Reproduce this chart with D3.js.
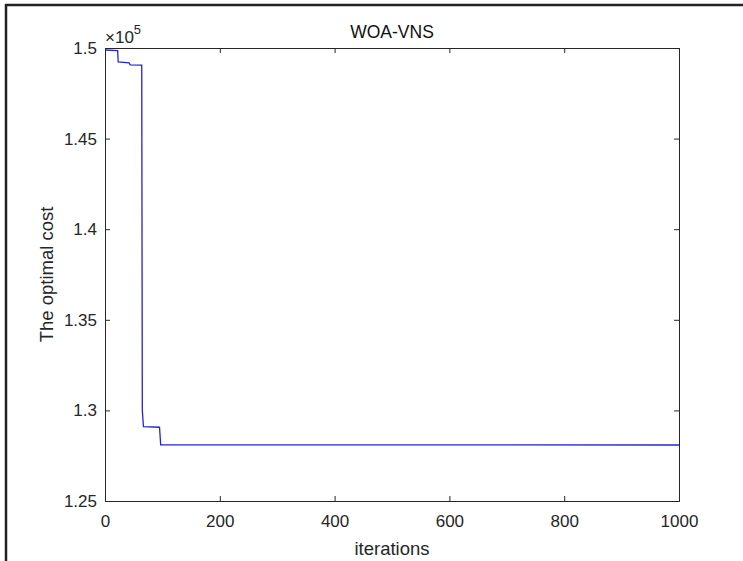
<!DOCTYPE html>
<html>
<head>
<meta charset="utf-8">
<script src="https://cdn.jsdelivr.net/npm/d3@7"></script>
<style>
  body { margin: 0; background: #fff; }
  svg { display: block; font-family: "Liberation Sans", Arial, Helvetica, sans-serif; }
  .tick text { fill: #262626; font-size: 17px; }
</style>
</head>
<body>
<div id="chart"></div>
<script>
const width = 743;
const height = 561;

// convergence curve (iteration, cost)
const iterations = [1, 22, 23, 42, 44, 64, 65, 67, 95, 97, 1000];
const costs = [149890, 149850, 149230, 149180, 149070, 149060, 130000, 129100, 129070, 128100, 128090];

const xTicks = [0, 200, 400, 600, 800, 1000];
const yTicks = [125000, 130000, 135000, 140000, 145000, 150000];

const margin = { left: 105, right: 64, top: 48, bottom: 60 };

const svg = d3.select("#chart")
    .append("svg")
    .attr("width", width)
    .attr("height", height);

// outer frame (left and top edge only, like the scan)
svg.append("line")
    .attr("x1", 6).attr("y1", 4).attr("x2", 6).attr("y2", height)
    .attr("stroke", "#222").attr("stroke-width", 2.5);
svg.append("line")
    .attr("x1", 5).attr("y1", 5).attr("x2", width).attr("y2", 5)
    .attr("stroke", "#222").attr("stroke-width", 2.5);

const x = d3.scaleLinear()
    .domain([0, 1000])
    .range([margin.left, width - margin.right]);

const y = d3.scaleLinear()
    .domain([125000, 150000])
    .range([height - margin.bottom, margin.top]);

const x0 = x.range()[0], x1 = x.range()[1];
const y0 = y.range()[0], y1 = y.range()[1];

// axes with inward ticks
const tickLen = 5;
const fmtY = d => String(+(d / 1e5).toFixed(2));

const axBottom = svg.append("g")
    .attr("transform", `translate(0,${y0})`)
    .call(d3.axisBottom(x).tickValues(xTicks).tickFormat(d3.format("d")).tickSize(-tickLen).tickPadding(14));
const axLeft = svg.append("g")
    .attr("transform", `translate(${x0},0)`)
    .call(d3.axisLeft(y).tickValues(yTicks).tickFormat(fmtY).tickSize(-tickLen).tickPadding(8));
const axTop = svg.append("g")
    .attr("transform", `translate(0,${y1})`)
    .call(d3.axisTop(x).tickValues(xTicks).tickSize(-tickLen).tickFormat(""));
const axRight = svg.append("g")
    .attr("transform", `translate(${x1},0)`)
    .call(d3.axisRight(y).tickValues(yTicks).tickSize(-tickLen).tickFormat(""));

[axBottom, axLeft, axTop, axRight].forEach(g => {
    g.select(".domain").attr("stroke", "#262626");
    g.selectAll(".tick line").attr("stroke", "#262626");
});

// the curve
const line = d3.line()
    .x(d => x(d[0]))
    .y(d => y(d[1]));

svg.append("path")
    .datum(d3.zip(iterations, costs))
    .attr("fill", "none")
    .attr("stroke", "#2323d8")
    .attr("stroke-width", 1.3)
    .attr("d", line);

// exponent label
const expo = svg.append("text")
    .attr("x", x0)
    .attr("y", 43)
    .attr("fill", "#262626")
    .attr("font-size", 17);
expo.append("tspan").text("\u00d710");
expo.append("tspan").attr("dy", -9).attr("font-size", 13).text("5");

// title
svg.append("text")
    .attr("x", (x0 + x1) / 2)
    .attr("y", 38)
    .attr("text-anchor", "middle")
    .attr("fill", "#111")
    .attr("font-size", 17.5)
    .text("WOA-VNS");

// axis labels
svg.append("text")
    .attr("x", (x0 + x1) / 2)
    .attr("y", 555)
    .attr("text-anchor", "middle")
    .attr("fill", "#262626")
    .attr("font-size", 18.5)
    .text("iterations");

svg.append("text")
    .attr("transform", `translate(53,${(y0 + y1) / 2}) rotate(-90)`)
    .attr("text-anchor", "middle")
    .attr("fill", "#262626")
    .attr("font-size", 18.5)
    .text("The optimal cost");
</script>
</body>
</html>
